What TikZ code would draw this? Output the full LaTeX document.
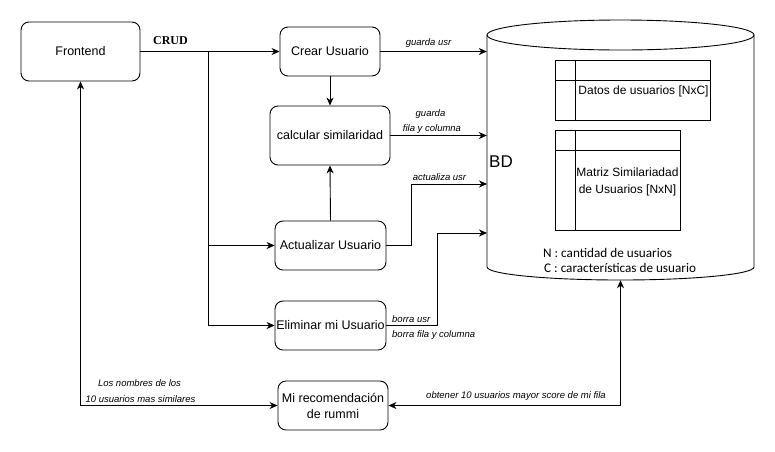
\documentclass[tikz,border=0pt]{standalone}
\usepackage{fontspec}
\setmainfont{Liberation Sans}
\newfontfamily\crudfont{Liberation Serif}
\newfontfamily\legendfont{Carlito}
\usetikzlibrary{arrows.meta}
\begin{document}
\begin{tikzpicture}[x=1pt,y=-1pt,
  proc/.style={draw, rounded corners=8pt, line width=0.9pt, align=center,
    font=\fontsize{12.5}{16}\selectfont, inner sep=0pt},
  conn/.style={line width=0.9pt, -{Stealth[length=8pt,width=7pt,inset=2.5pt]}},
  conntwo/.style={line width=0.9pt, {Stealth[length=8pt,width=7pt,inset=2.5pt]}-{Stealth[length=8pt,width=7pt,inset=2.5pt]}},
  elab/.style={font=\fontsize{9.5}{11}\selectfont\itshape, inner sep=0pt},
  tbl/.style={line width=0.9pt},
  ttext/.style={font=\fontsize{12}{17}\selectfont, align=center, inner sep=0pt},
  leg/.style={font=\legendfont\fontsize{13.2}{15}\selectfont, inner sep=0pt, anchor=west}
]
\useasboundingbox (0,0) rectangle (775,451);
\fill[white] (0,0) rectangle (775,451);

% database cylinder
\node[minimum width=267pt, minimum height=260pt, inner sep=0pt] (bd) at (620.5,150) {};
\draw[line width=0.9pt] (620.5,35) ellipse[x radius=133.5pt, y radius=15pt];
\draw[line width=0.9pt] (487,35) -- (487,267)
  arc[start angle=180, end angle=360, x radius=133.5pt, y radius=13pt] -- (754,35);
\node[font=\fontsize{17}{20}\selectfont, inner sep=0pt, anchor=west] (bdlabel) at (489,162) {BD};

% tables
\draw[tbl] (555,60) rectangle (710,120);
\draw[tbl] (555,80) -- (710,80);
\draw[tbl] (575,60) -- (575,120);
\node[ttext] (datos) at (643.5,91) {Datos de usuarios [NxC]};
\draw[tbl] (555,130) rectangle (680,230);
\draw[tbl] (555,150) -- (680,150);
\draw[tbl] (575,130) -- (575,230);
\node[ttext] (matriz) at (627.5,181.5) {Matriz Similariadad\\de Usuarios [NxN]};

\node[leg] (legn) at (543,253) {N : cantidad de usuarios};
\node[leg] (legc) at (544,268) {C : características de usuario};

% process nodes
\node[proc, minimum width=119pt, minimum height=59pt] (front) at (80.5,51.5) {Frontend};
\node[proc, minimum width=100pt, minimum height=49pt] (crear) at (330,51.5) {Crear Usuario};
\node[proc, minimum width=120pt, minimum height=59pt] (calc) at (330,135.5) {calcular similaridad};
\node[proc, minimum width=111pt, minimum height=49pt] (act) at (330.5,245.5) {Actualizar Usuario};
\node[proc, minimum width=111pt, minimum height=49pt] (elim) at (330.5,325.5) {Eliminar mi Usuario};
\node[proc, minimum width=110pt, minimum height=49pt] (reco) at (333,405.5) {Mi recomendación\\de rummi};

\node[font=\crudfont\bfseries\fontsize{12}{14}\selectfont, inner sep=0pt] (crud) at (170.5,41) {CRUD};

% connectors
\coordinate (split) at (208,51.5);
\draw[conn] (front.east) -- (crear.west);
\draw[line width=0.9pt] (split) -- (208,325.5);
\draw[conn] (split) |- (act.west);
\draw[conn] (split) |- (elim.west);
\draw[conn] (crear.south) -- (calc.north);
\draw[conn] (act.north) -- (calc.south);
\draw[conn] (crear.east) -- (crear.east -| bd.west);
\draw[conn] (calc.east) -- (calc.east -| bd.west);
\coordinate (actin) at (487,184);
\coordinate (elimin) at (487,233);
\draw[conn] (act.east) -- ++(25,0) |- (actin);
\draw[conn] (elim.east) -- ++(51,0) |- (elimin);
\draw[conntwo] (front.south) |- (reco.west);
\draw[conntwo] (bd.south) |- (reco.east);

% edge labels
\node[elab] (l1) at (428.5,43) {guarda usr};
\node[elab] (l2a) at (430.5,114) {guarda};
\node[elab] (l2b) at (432,129) {fila y columna};
\node[elab] (l3) at (439.5,177) {actualiza usr};
\node[elab, anchor=west] (l4a) at (392,319) {borra usr};
\node[elab, anchor=west] (l4b) at (392,335) {borra fila y columna};
\node[elab] (l5) at (516,396) {obtener 10 usuarios mayor score de mi fila};
\node[elab] (l6a) at (139.5,383) {Los nombres de los};
\node[elab] (l6b) at (140.5,399) {10 usuarios mas similares};
\end{tikzpicture}
\end{document}
